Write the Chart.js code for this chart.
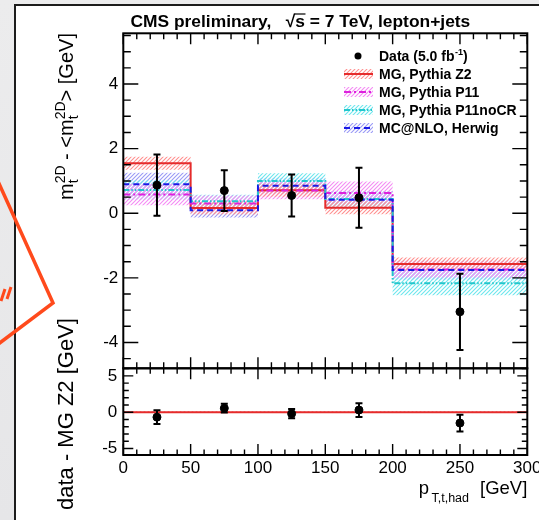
<!DOCTYPE html>
<html>
<head>
<meta charset="utf-8">
<script src="https://cdn.jsdelivr.net/npm/chart.js@4.4.1/dist/chart.umd.min.js"></script>
<style>
  html, body { margin: 0; padding: 0; }
  body { width: 539px; height: 520px; overflow: hidden; position: relative;
         background: linear-gradient(#ececed, #e6e6e8); }
  #sheet { position: absolute; left: 14px; top: 4px; width: 600px; height: 600px;
           background: #fff; border-left: 2px solid #1c1c1c; border-top: 2px solid #1c1c1c; }
  canvas { position: absolute; left: 0; top: 0; }
  #marks { position: absolute; left: 0; top: 0; }
</style>
</head>
<body>
<div id="sheet"></div>
<canvas id="upper" width="539" height="520"></canvas>
<canvas id="lower" width="539" height="520"></canvas>
<svg id="marks" width="539" height="520">
  <polyline points="-3,179 53,303 -3,345" fill="none" stroke="#ff4a1c" stroke-width="3.5" stroke-linejoin="miter"/>
  <path d="M1,301 L5,289 M7,299 L11,287" stroke="#ff4a1c" stroke-width="3" fill="none"/>
</svg>
<script>
// ---- values: top-quark 2D mass shift vs hadronic top pT ----
const binEdges   = [0, 50, 100, 150, 200, 300];
const binCenters = [25, 75, 125, 175, 250];

const dataVals = [0.87, 0.70, 0.55, 0.48, -3.05];
const dataErrs = [0.95, 0.63, 0.65, 0.93, 1.18];

const z2Vals      = [1.55, 0.16, 0.71, 0.17, -1.57];
const z2Errs      = [0.20, 0.20, 0.20, 0.20, 0.20];
const p11Vals     = [0.58, 0.30, 0.70, 0.63, -1.74];
const p11Errs     = [0.33, 0.25, 0.27, 0.35, 0.25];
const p11noCRVals = [0.72, 0.37, 1.00, 0.44, -2.17];
const p11noCRErrs = [0.30, 0.20, 0.24, 0.25, 0.37];
const mcnloVals   = [0.90, 0.09, 0.85, 0.42, -1.76];
const mcnloErrs   = [0.35, 0.22, 0.25, 0.25, 0.30];

// data minus MG Z2
const diffVals = [-0.68, 0.55, -0.20, 0.30, -1.50];
const diffErrs = [0.95, 0.60, 0.64, 0.95, 1.15];
const zeroVals = [0, 0, 0, 0, 0];
const zeroErrs = [0.12, 0.12, 0.12, 0.12, 0.12];

const xTickLabels  = [0, 50, 100, 150, 200, 250, 300];
const yTicksUpper  = [-4, -2, 0, 2, 4];
const yTicksLower  = [-5, 0, 5];

const legendLabels = ['Data (5.0 fb', 'MG, Pythia Z2', 'MG, Pythia P11', 'MG, Pythia P11noCR', 'MC@NLO, Herwig'];

// ---- styling ----
const FONT = '"Liberation Sans", Arial, Helvetica, sans-serif';
const RED = '#e52b2b', MAGENTA = '#dd22dd', CYAN = '#22c6cc', BLUE = '#1a1ae6';
const DASH = { z2: [], p11: [7, 3, 2, 3], p11noCR: [6, 2, 1.5, 2, 1.5, 2], mcnlo: [6, 4] };

function hatch(color) {
  const c = document.createElement('canvas');
  c.width = 4; c.height = 4;
  const g = c.getContext('2d');
  g.strokeStyle = color; g.lineWidth = 1.1;
  g.beginPath();
  g.moveTo(-1, 5); g.lineTo(5, -1);
  g.moveTo(-1, 1); g.lineTo(1, -1);
  g.moveTo(3, 5); g.lineTo(5, 3);
  g.stroke();
  return g.createPattern(c, 'repeat');
}
const HATCH = {
  z2: hatch('#ff9090'),
  p11: hatch('#f48cf4'),
  p11noCR: hatch('#6ee6ee'),
  mcnlo: hatch('#9a9af6')
};

function stepPts(vals) {
  return binEdges.map((x, i) => ({ x, y: vals[Math.max(i - 1, 0)] }));
}
function edge(vals, errs, s) { return vals.map((v, i) => v + s * errs[i]); }
function pts(xs, ys) { return xs.map((x, i) => ({ x, y: ys[i] })); }

// each point carries the value of the bin that ends at it
function stepLine(label, vals, color, dash) {
  return { label, data: stepPts(vals), stepped: 'after', borderColor: color, borderWidth: 2,
           borderDash: dash, pointRadius: 0, fill: false };
}
function bandPair(vals, errs, pattern) {
  return [
    { data: stepPts(edge(vals, errs, +1)), stepped: 'after', borderWidth: 0, pointRadius: 0,
      backgroundColor: pattern, fill: '+1' },
    { data: stepPts(edge(vals, errs, -1)), stepped: 'after', borderWidth: 0, pointRadius: 0, fill: false }
  ];
}
function pointSet(label, vals, errs) {
  return { label, data: pts(binCenters, vals), errors: errs, showLine: false,
           pointRadius: 4, pointHoverRadius: 4, pointBackgroundColor: '#000', pointBorderColor: '#000',
           borderColor: '#000' };
}

// error bars with small end caps, drawn right under the markers
const errorBars = {
  id: 'errorBars',
  beforeDatasetDraw(chart, args) {
    const ds = chart.data.datasets[args.index];
    if (!ds.errors) return;
    const { ctx } = chart;
    const xs = chart.scales.x, ys = chart.scales.y;
    ctx.save();
    ctx.strokeStyle = '#000'; ctx.lineWidth = 2;
    ctx.beginPath();
    ds.data.forEach((p, i) => {
      const px = xs.getPixelForValue(p.x);
      const hi = ys.getPixelForValue(p.y + ds.errors[i]);
      const lo = ys.getPixelForValue(p.y - ds.errors[i]);
      ctx.moveTo(px, hi); ctx.lineTo(px, lo);
      ctx.moveTo(px - 3.5, hi); ctx.lineTo(px + 3.5, hi);
      ctx.moveTo(px - 3.5, lo); ctx.lineTo(px + 3.5, lo);
    });
    ctx.stroke();
    ctx.restore();
  }
};

// frame with inward ticks on all four sides
function frameTicks(o) {
  return {
    id: 'frameTicks',
    afterDraw(chart) {
      const { ctx, chartArea: a } = chart;
      const xs = chart.scales.x, ys = chart.scales.y;
      ctx.save();
      ctx.strokeStyle = '#000'; ctx.lineWidth = 1.4;
      ctx.beginPath();
      const isMajor = (v, m) => Math.abs(v / m - Math.round(v / m)) < 1e-6;
      for (let k = Math.ceil(xs.min / o.xMinor - 1e-9); k * o.xMinor <= xs.max + 1e-9; k++) {
        const v = k * o.xMinor, px = xs.getPixelForValue(v);
        const L = isMajor(v, o.xMajor) ? o.xMajLen : o.xMinLen;
        ctx.moveTo(px, a.bottom); ctx.lineTo(px, a.bottom - L);
        ctx.moveTo(px, a.top); ctx.lineTo(px, a.top + L);
      }
      for (let k = Math.ceil(ys.min / o.yMinor - 1e-9); k * o.yMinor <= ys.max + 1e-9; k++) {
        const v = k * o.yMinor, py = ys.getPixelForValue(v);
        const L = isMajor(v, o.yMajor) ? o.yMajLen : o.yMinLen;
        ctx.moveTo(a.left, py); ctx.lineTo(a.left + L, py);
        ctx.moveTo(a.right, py); ctx.lineTo(a.right - L, py);
      }
      ctx.stroke();
      ctx.lineWidth = 2;
      ctx.strokeRect(a.left, a.top, a.right - a.left, a.bottom - a.top);
      ctx.restore();
    }
  };
}

// text runs with ROOT-like stacked sub/superscripts
function drawRich(ctx, runs, x, y) {
  let cx = x;
  for (const r of runs) {
    const parts = r.stack || [r];
    let adv = 0;
    for (const p of parts) {
      ctx.font = `${p.bold ? 'bold ' : ''}${p.size}px ${FONT}`;
      ctx.fillText(p.t, cx, y + (p.dy || 0));
      adv = Math.max(adv, ctx.measureText(p.t).width);
    }
    cx += adv + (r.gap || 0);
  }
  return cx;
}

const upperText = {
  id: 'upperText',
  afterDraw(chart) {
    const { ctx } = chart;
    ctx.save();
    ctx.fillStyle = '#000';
    ctx.textBaseline = 'alphabetic';
    ctx.textAlign = 'left';

    // title
    ctx.font = `bold 17.4px ${FONT}`;
    const pre = 'CMS preliminary,   \u221A';
    ctx.fillText(pre + 's = 7 TeV, lepton+jets', 130.5, 27);
    const w0 = ctx.measureText(pre).width, ws = ctx.measureText('s').width;
    ctx.lineWidth = 1.2; ctx.strokeStyle = '#000';
    ctx.beginPath(); ctx.moveTo(130.5 + w0 - 1, 14); ctx.lineTo(130.5 + w0 + ws + 0.5, 14); ctx.stroke();

    // legend
    const rows = [56, 74, 92, 110, 128];
    const sx0 = 344, sx1 = 373, tx = 379;
    ctx.fillStyle = '#000';
    ctx.beginPath(); ctx.arc(358, rows[0], 3.5, 0, Math.PI * 2); ctx.fill();
    const entries = [
      [HATCH.z2, RED, DASH.z2], [HATCH.p11, MAGENTA, DASH.p11],
      [HATCH.p11noCR, CYAN, DASH.p11noCR], [HATCH.mcnlo, BLUE, DASH.mcnlo]
    ];
    entries.forEach(([pat, col, dash], i) => {
      const yc = rows[i + 1];
      ctx.fillStyle = pat;
      ctx.fillRect(sx0, yc - 5, sx1 - sx0, 10);
      ctx.strokeStyle = col; ctx.lineWidth = 2; ctx.setLineDash(dash);
      ctx.beginPath(); ctx.moveTo(sx0, yc); ctx.lineTo(sx1, yc); ctx.stroke();
      ctx.setLineDash([]);
    });
    ctx.fillStyle = '#000';
    const LS = 14;
    const end = drawRich(ctx, [{ t: legendLabels[0], size: LS, bold: true }], tx, rows[0] + 5);
    const e2 = drawRich(ctx, [{ t: '-1', size: 9, bold: true, dy: -6 }], end + 0.5, rows[0] + 5);
    drawRich(ctx, [{ t: ')', size: LS, bold: true }], e2, rows[0] + 5);
    for (let i = 1; i < 5; i++) drawRich(ctx, [{ t: legendLabels[i], size: LS, bold: true }], tx, rows[i] + 5);

    // y-axis title
    ctx.translate(73, 200);
    ctx.rotate(-Math.PI / 2);
    drawRich(ctx, [
      { t: 'm', size: 20 },
      { stack: [{ t: '2D', size: 14, dy: -8 }, { t: 't', size: 14, dy: 5 }] },
      { t: ' - <m', size: 20 },
      { stack: [{ t: '2D', size: 14, dy: -8 }, { t: 't', size: 14, dy: 5 }] },
      { t: '> [GeV]', size: 20 }
    ], 0, 0);
    ctx.restore();
  }
};

const lowerText = {
  id: 'lowerText',
  afterDraw(chart) {
    const { ctx } = chart;
    ctx.save();
    ctx.fillStyle = '#000';
    ctx.textBaseline = 'alphabetic';
    // x-axis title, right-aligned to the frame
    ctx.font = `18.5px ${FONT}`;
    const unit = '[GeV]';
    const uw = ctx.measureText(unit).width;
    const ux = chart.chartArea.right - uw;
    ctx.fillText(unit, ux, 493.5);
    ctx.font = `12.5px ${FONT}`;
    const sub = 'T,t,had';
    const sw = ctx.measureText(sub).width;
    const sx = ux - 11 - sw;
    ctx.fillText(sub, sx, 502);
    ctx.font = `18.5px ${FONT}`;
    ctx.fillText('p', sx - ctx.measureText('p').width - 2.5, 493.5);
    // y-axis title
    ctx.translate(73, 510);
    ctx.rotate(-Math.PI / 2);
    drawRich(ctx, [{ t: 'data - MG Z2 [GeV]', size: 22 }], 0, 0);
    ctx.restore();
  }
};

const tickFont = { family: FONT, size: 17 };
Chart.defaults.font.family = FONT;

// ---- upper panel ----
new Chart(document.getElementById('upper'), {
  type: 'line',
  data: {
    datasets: [
      pointSet('Data', dataVals, dataErrs),
      stepLine('MC@NLO, Herwig', mcnloVals, BLUE, DASH.mcnlo),
      stepLine('MG, Pythia P11noCR', p11noCRVals, CYAN, DASH.p11noCR),
      stepLine('MG, Pythia P11', p11Vals, MAGENTA, DASH.p11),
      stepLine('MG, Pythia Z2', z2Vals, RED, DASH.z2),
      ...bandPair(z2Vals, z2Errs, HATCH.z2),
      ...bandPair(p11Vals, p11Errs, HATCH.p11),
      ...bandPair(p11noCRVals, p11noCRErrs, HATCH.p11noCR),
      ...bandPair(mcnloVals, mcnloErrs, HATCH.mcnlo)
    ]
  },
  options: {
    responsive: false, animation: false, events: [],
    layout: { padding: { left: 0, top: 33.3, right: 11.7, bottom: 151.7 } },
    plugins: { legend: { display: false }, tooltip: { enabled: false }, title: { display: false } },
    scales: {
      x: { type: 'linear', min: 0, max: 300, display: false },
      y: {
        type: 'linear', min: -4.8, max: 5.57,
        afterBuildTicks: s => { s.ticks = yTicksUpper.map(v => ({ value: v })); },
        afterFit: s => { s.width = 123.3; s.paddingTop = 0; s.paddingBottom = 0; },
        grid: { display: false, drawTicks: false }, border: { display: false },
        ticks: { padding: 5, color: '#000', font: tickFont }
      }
    }
  },
  plugins: [errorBars, frameTicks({ xMinor: 10, xMajor: 50, xMajLen: 11, xMinLen: 6,
                                    yMinor: 0.5, yMajor: 2, yMajLen: 15, yMinLen: 7.5 }), upperText]
});

// ---- lower panel (data - MG Z2) ----
new Chart(document.getElementById('lower'), {
  type: 'line',
  data: {
    datasets: [
      pointSet('data - MG Z2', diffVals, diffErrs),
      stepLine('MG, Pythia Z2', zeroVals, RED, []),
      ...bandPair(zeroVals, zeroErrs, HATCH.z2)
    ]
  },
  options: {
    responsive: false, animation: false, events: [],
    layout: { padding: { left: 0, top: 368.3, right: 11.7, bottom: 35 } },
    plugins: { legend: { display: false }, tooltip: { enabled: false }, title: { display: false } },
    scales: {
      x: {
        type: 'linear', min: 0, max: 300, position: 'bottom',
        afterBuildTicks: s => { s.ticks = xTickLabels.map(v => ({ value: v })); },
        afterFit: s => { s.height = 30; s.paddingLeft = 0; s.paddingRight = 0; },
        grid: { display: false, drawTicks: false }, border: { display: false },
        ticks: { padding: 3, color: '#000', font: tickFont, maxRotation: 0, autoSkip: false }
      },
      y: {
        type: 'linear', min: -5.9, max: 6.05,
        afterBuildTicks: s => { s.ticks = yTicksLower.map(v => ({ value: v })); },
        afterFit: s => { s.width = 123.3; s.paddingTop = 0; s.paddingBottom = 0; },
        grid: { display: false, drawTicks: false }, border: { display: false },
        ticks: { padding: 6, color: '#000', font: tickFont }
      }
    }
  },
  plugins: [errorBars, frameTicks({ xMinor: 10, xMajor: 50, xMajLen: 11, xMinLen: 5.5,
                                    yMinor: 1, yMajor: 5, yMajLen: 10, yMinLen: 5.5 }), lowerText]
});
</script>
</body>
</html>
